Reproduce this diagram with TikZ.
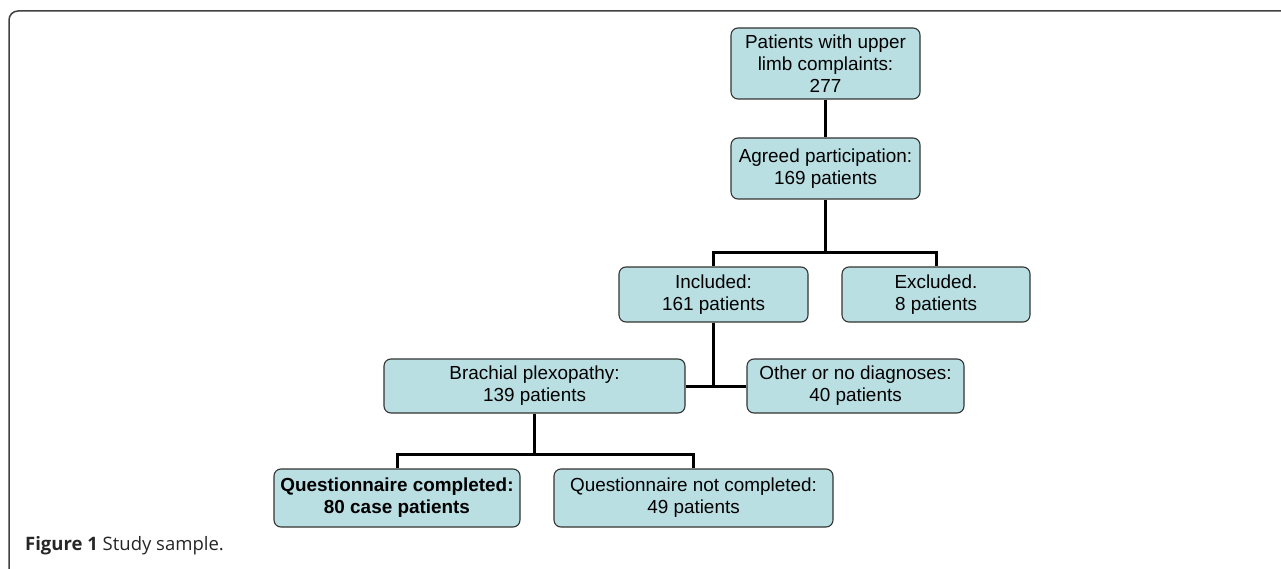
\documentclass[tikz,border=0pt]{standalone}
\usepackage{fontspec}
\setmainfont{Liberation Sans}
\newfontfamily\capfont{Open Sans}
\definecolor{boxcyan}{RGB}{185,223,227}
\tikzset{
  kasten/.style={draw=black!80, line width=1.1pt, fill=boxcyan, rounded corners=7pt,
    align=center, inner sep=0pt, font=\fontsize{18.9}{22}\selectfont},
  linie/.style={line width=3pt, black}
}
\begin{document}
\begin{tikzpicture}[x=1pt, y=-1pt]
  \useasboundingbox (0,0) rectangle (1281,569);
  \clip (0,0) rectangle (1281,569);
  % Rahmen
  \draw[black!75, line width=1.5pt, rounded corners=9pt] (9,11) rectangle (1300,590);
  % Kaesten
  \node[kasten, minimum width=189pt, minimum height=71pt] (upper) at (825.5,63.5) {Patients with upper\\limb complaints:\\277};
  \node[kasten, minimum width=189pt, minimum height=61pt] (agreed) at (825.5,168.5) {Agreed participation:\\169 patients};
  \node[kasten, minimum width=189pt, minimum height=55pt] (incl) at (713.5,294.5) {Included:\\161 patients};
  \node[kasten, minimum width=188pt, minimum height=55pt] (excl) at (936,294.5) {Excluded.\\8 patients};
  \node[kasten, minimum width=301pt, minimum height=54pt] (brach) at (534.5,386) {Brachial plexopathy:\\139 patients};
  \node[kasten, minimum width=217pt, minimum height=54pt] (other) at (855.5,386) {Other or no diagnoses:\\40 patients};
  \node[kasten, minimum width=246pt, minimum height=58pt, font=\fontsize{18.9}{22}\selectfont\bfseries] (qdone) at (397,498) {Questionnaire completed:\\80 case patients};
  \node[kasten, minimum width=279pt, minimum height=58pt] (qnot) at (693.5,498) {Questionnaire not completed:\\49 patients};
  % Linien
  \coordinate (split1) at (825.5,252);
  \coordinate (split2) at (534.5,454);
  \draw[linie] (upper.south) -- (agreed.north);
  \draw[linie] (agreed.south) -- (split1);
  \draw[linie] (incl.north) |- (split1) -| (excl.north);
  \draw[linie] (brach.east) -- (other.west);
  \draw[linie] (incl.south) -- (incl.south |- brach.east);
  \draw[linie] (brach.south) -- (split2);
  \draw[linie] (qdone.north) |- (split2) -| (qnot.north);
  % Bildunterschrift
  \node[anchor=base west, inner sep=0pt, font=\capfont\fontsize{18.5}{20}\selectfont, text=black!85] (caption) at (25,550) {\textbf{Figure 1} Study sample.};
\end{tikzpicture}
\end{document}
